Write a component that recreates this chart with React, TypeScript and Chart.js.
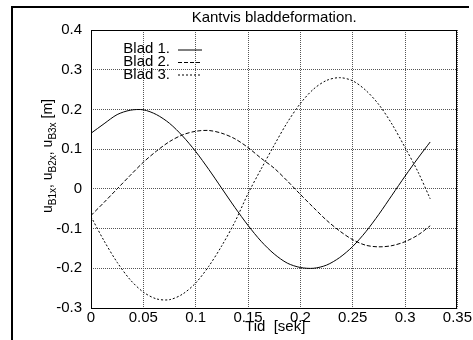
import React, { useEffect, useRef } from "react";
import { Chart, registerables } from "chart.js";

Chart.register(...registerables);

const TITLE = "Kantvis bladdeformation.";
const X_LABEL = "Tid  [sek]";
const SERIES_NAMES = ["Blad 1.", "Blad 2.", "Blad 3."];

const times = [
  0, 0.0125, 0.025, 0.0375, 0.05, 0.0625, 0.075, 0.0875, 0.1, 0.1125, 0.125,
  0.1375, 0.15, 0.1625, 0.175, 0.1875, 0.2, 0.2125, 0.225, 0.2375, 0.25,
  0.2625, 0.275, 0.2875, 0.3, 0.3125, 0.324,
];
const blad1 = [
  0.14, 0.164, 0.187, 0.198, 0.199, 0.187, 0.165, 0.133, 0.094, 0.049, 0.001,
  -0.047, -0.092, -0.132, -0.164, -0.187, -0.198, -0.2, -0.192, -0.173,
  -0.145, -0.108, -0.064, -0.016, 0.032, 0.078, 0.118,
];
const blad2 = [
  -0.067, -0.034, 0.0, 0.034, 0.067, 0.095, 0.119, 0.136, 0.145, 0.147, 0.14,
  0.126, 0.104, 0.077, 0.052, 0.02, -0.014, -0.047, -0.079, -0.106, -0.128,
  -0.142, -0.146, -0.143, -0.133, -0.116, -0.093,
];
const blad3 = [
  -0.07, -0.131, -0.185, -0.229, -0.26, -0.277, -0.279, -0.265, -0.237,
  -0.195, -0.143, -0.083, -0.012, 0.05, 0.11, 0.167, 0.215, 0.251, 0.273,
  0.28, 0.272, 0.248, 0.212, 0.163, 0.104, 0.042, -0.025,
];

const xTicks = [0, 0.05, 0.1, 0.15, 0.2, 0.25, 0.3, 0.35];
const xTickLabels = ["0", "0.05", "0.1", "0.15", "0.2", "0.25", "0.3", "0.35"];
const yTicks = [-0.3, -0.2, -0.1, 0, 0.1, 0.2, 0.3, 0.4];
const yTickLabels = ["-0.3", "-0.2", "-0.1", "0", "0.1", "0.2", "0.3", "0.4"];

const DASHES: number[][] = [[], [4, 2], [2, 2]];
const FONT = "'Liberation Sans', Arial, Helvetica, sans-serif";

const decorPlugin = {
  id: "decor",
  afterDraw(chart: any) {
    const ctx = chart.ctx as CanvasRenderingContext2D;
    const a = chart.chartArea;
    ctx.save();
    // outer frame (top + left)
    ctx.fillStyle = "#000";
    ctx.fillRect(11, 6, 458, 2);
    ctx.fillRect(11, 6, 2, 334);
    // plot border
    ctx.strokeStyle = "#000";
    ctx.lineWidth = 1;
    ctx.setLineDash([]);
    ctx.strokeRect(
      Math.round(a.left) + 0.5,
      Math.round(a.top) + 0.5,
      Math.round(a.right - a.left) - 1,
      Math.round(a.bottom - a.top)
    );
    // title
    ctx.fillStyle = "#000";
    ctx.font = `15px ${FONT}`;
    ctx.textAlign = "center";
    ctx.textBaseline = "alphabetic";
    ctx.fillText(TITLE, (a.left + a.right) / 2, 22);
    // x label
    ctx.fillText(X_LABEL, (a.left + a.right) / 2 + 1, 331);
    // legend
    const rows = [53, 66, 79];
    const lineY = [50, 62.5, 75];
    SERIES_NAMES.forEach((name, i) => {
      ctx.textAlign = "right";
      ctx.fillText(name, 170, rows[i]);
      ctx.beginPath();
      ctx.setLineDash(DASHES[i]);
      ctx.moveTo(178, lineY[i]);
      ctx.lineTo(202, lineY[i]);
      ctx.stroke();
    });
    ctx.setLineDash([]);
    // y label (rotated, with subscripts)
    ctx.translate(52, 213);
    ctx.rotate(-Math.PI / 2);
    ctx.textAlign = "left";
    const parts: [string, boolean][] = [
      ["u", false], ["B1x", true], [", ", false],
      ["u", false], ["B2x", true], [", ", false],
      ["u", false], ["B3x", true], [" [m]", false],
    ];
    let x = 0;
    for (const [t, sub] of parts) {
      ctx.font = sub ? `10px ${FONT}` : `14px ${FONT}`;
      ctx.fillText(t, x, sub ? 4 : 0);
      x += ctx.measureText(t).width;
    }
    ctx.restore();
  },
};

export default function App() {
  const ref = useRef<HTMLCanvasElement | null>(null);

  useEffect(() => {
    if (!ref.current) return;
    const mk = (vals: number[]) => vals.map((v, i) => ({ x: times[i], y: v }));
    const chart = new Chart(ref.current, {
      type: "line",
      data: {
        datasets: [blad1, blad2, blad3].map((vals, i) => ({
          label: SERIES_NAMES[i],
          data: mk(vals),
          borderColor: "#000",
          borderWidth: 1,
          borderDash: DASHES[i],
          pointRadius: 0,
          fill: false,
          tension: 0.3,
        })),
      },
      plugins: [decorPlugin],
      options: {
        animation: false,
        responsive: false,
        maintainAspectRatio: false,
        layout: { padding: { left: 0, right: 12, top: 30, bottom: 0 } },
        plugins: {
          legend: { display: false },
          title: { display: false },
          tooltip: { enabled: false },
        },
        scales: {
          x: {
            type: "linear",
            min: 0,
            max: 0.35,
            afterFit: (s: any) => { s.height = 32; },
            afterBuildTicks: (s: any) => { s.ticks = xTicks.map((v) => ({ value: v })); },
            ticks: {
              autoSkip: false,
              maxRotation: 0,
              padding: 1,
              color: "#000",
              font: { family: FONT, size: 15 },
              callback: (v: any) => {
                const i = xTicks.findIndex((t) => Math.abs(t - v) < 1e-9);
                return i >= 0 ? xTickLabels[i] : "";
              },
            },
            grid: { color: "#555", drawTicks: false, lineWidth: 1 },
            border: { display: false, dash: [1, 1] },
          },
          y: {
            type: "linear",
            min: -0.3,
            max: 0.4,
            afterFit: (s: any) => { s.width = 91; },
            afterBuildTicks: (s: any) => { s.ticks = yTicks.map((v) => ({ value: v })); },
            ticks: {
              autoSkip: false,
              padding: 9,
              color: "#000",
              font: { family: FONT, size: 15 },
              callback: (v: any) => {
                const i = yTicks.findIndex((t) => Math.abs(t - v) < 1e-9);
                return i >= 0 ? yTickLabels[i] : "";
              },
            },
            grid: { color: "#555", drawTicks: false, lineWidth: 1 },
            border: { display: false, dash: [1, 1] },
          },
        },
      },
    } as any);
    return () => chart.destroy();
  }, []);

  return (
    <div style={{ position: "fixed", left: 0, top: 0, width: 473, height: 340, background: "#fff" }}>
      <canvas ref={ref} width={473} height={340} style={{ display: "block", width: 473, height: 340 }} />
    </div>
  );
}
